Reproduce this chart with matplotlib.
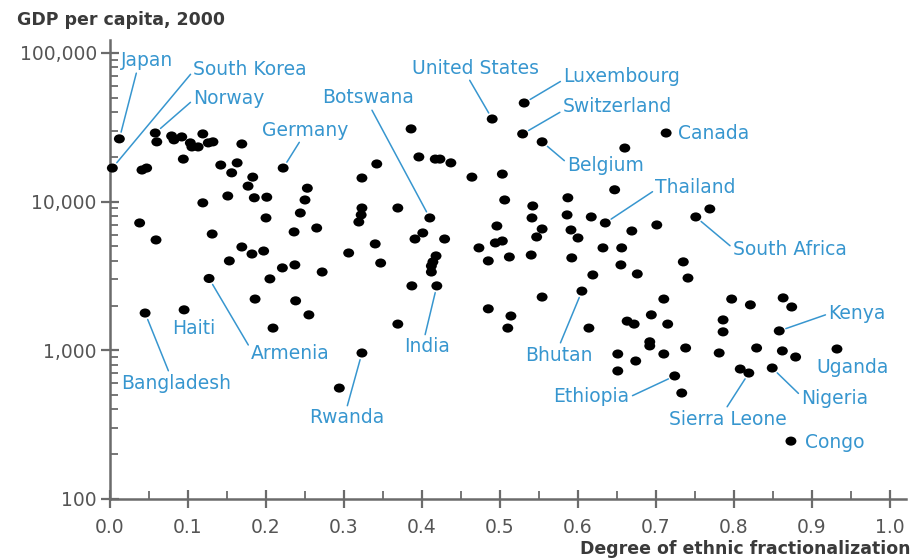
import matplotlib
matplotlib.use("Agg")
import matplotlib.pyplot as plt
from matplotlib.markers import MarkerStyle
from matplotlib.path import Path
from matplotlib.ticker import FixedLocator, LogLocator, NullFormatter
from matplotlib.transforms import Affine2D

plt.rcParams['font.family'] = ['DejaVu Sans']

# labelled countries: ethnic fractionalization, GDP per capita 2000
names = ['Japan', 'South Korea', 'Norway', 'Germany', 'Botswana',
         'United States', 'Luxembourg', 'Switzerland', 'Belgium', 'Canada',
         'Thailand', 'South Africa', 'Kenya', 'Uganda', 'Nigeria',
         'Sierra Leone', 'Congo', 'Ethiopia', 'Bhutan', 'India',
         'Rwanda', 'Armenia', 'Haiti', 'Bangladesh']
named_frac = [0.012, 0.003, 0.058, 0.222, 0.410,
              0.490, 0.531, 0.529, 0.554, 0.713,
              0.635, 0.751, 0.858, 0.932, 0.849,
              0.819, 0.873, 0.724, 0.605, 0.419,
              0.323, 0.127, 0.095, 0.045]
named_gdp = [26400, 16800, 28900, 16800, 7760,
             35900, 46000, 28500, 25200, 28900,
             7180, 7880, 1350, 1020, 760,
             703, 245, 672, 2500, 2710,
             959, 3040, 1870, 1780]

# all other countries
other_frac = [0.060, 0.079, 0.082, 0.092, 0.103, 0.105, 0.113, 0.119, 0.126, 0.132,
              0.169, 0.094, 0.041, 0.047, 0.142, 0.156, 0.163, 0.183, 0.177, 0.253,
              0.250, 0.151, 0.185, 0.201, 0.119, 0.244, 0.200, 0.323, 0.323, 0.322,
              0.319, 0.038, 0.059, 0.131, 0.236, 0.265, 0.169, 0.182, 0.197, 0.153,
              0.221, 0.237, 0.205, 0.272, 0.306, 0.186, 0.238, 0.255, 0.209, 0.294,
              0.386, 0.396, 0.417, 0.423, 0.437, 0.342, 0.369, 0.401, 0.391, 0.429,
              0.340, 0.418, 0.414, 0.412, 0.412, 0.347, 0.387, 0.369, 0.660, 0.464,
              0.503, 0.647, 0.506, 0.587, 0.542, 0.541, 0.586, 0.617, 0.554, 0.547,
              0.496, 0.591, 0.600, 0.494, 0.503, 0.473, 0.632, 0.656, 0.485, 0.512,
              0.540, 0.592, 0.655, 0.619, 0.554, 0.485, 0.514, 0.510, 0.614, 0.651,
              0.651, 0.663, 0.672, 0.701, 0.669, 0.676, 0.735, 0.741, 0.769, 0.710,
              0.694, 0.715, 0.692, 0.692, 0.710, 0.738, 0.674, 0.733, 0.797, 0.821,
              0.863, 0.874, 0.786, 0.786, 0.781, 0.829, 0.862, 0.879, 0.808]
other_gdp = [25200, 27600, 26000, 27200, 24800, 23300, 23300, 28500, 24800, 25200,
             24400, 19300, 16300, 16800, 17600, 15600, 18200, 14600, 12700, 12300,
             10250, 10900, 10600, 10700, 9800, 8380, 7760, 14400, 9050, 8130,
             7290, 7180, 5520, 6050, 6250, 6640, 4950, 4440, 4650, 3990,
             3580, 3750, 3020, 3360, 4510, 2210, 2150, 1730, 1410, 557,
             30800, 19950, 19300, 19300, 18200, 17900, 9050, 6150, 5600, 5600,
             5190, 4310, 3930, 3690, 3360, 3860, 2710, 1500, 22900, 14600,
             15300, 12000, 10250, 10600, 9340, 7760, 8130, 7880, 6540, 5780,
             6850, 6440, 5690, 5270, 5430, 4880, 4880, 4880, 3990, 4240,
             4370, 4180, 3750, 3210, 2280, 1900, 1700, 1410, 1410, 944,
             726, 1570, 1500, 6960, 6340, 3260, 3930, 3060, 8920, 2210,
             1730, 1500, 1140, 1070, 944, 1036, 847, 516, 2210, 2020,
             2250, 1955, 1600, 1330, 959, 1036, 990, 901, 748]

y_ticks = [100, 1000, 10000, 100000]
y_ticklabels = ['100', '1,000', '10,000', '100,000']
x_ticks = [0.0, 0.1, 0.2, 0.3, 0.4, 0.5, 0.6, 0.7, 0.8, 0.9, 1.0]

# label placement: offset from dot in pixels, alignment, where leader line leaves the text
label_pos = {
    'Japan': (2, 78, 'left', (0.3, 0)),
    'South Korea': (81, 99, 'left', (0, 0.4)),
    'Norway': (38, 35, 'left', (0, 0.4)),
    'Germany': (-21, 38, 'left', (0.45, 0)),
    'Botswana': (-108, 120, 'left', (0.53, 0)),
    'United States': (-80, 51, 'left', (0.44, 0)),
    'Luxembourg': (39, 26, 'left', (0, 0.35)),
    'Switzerland': (40, 27, 'left', (0, 0.3)),
    'Belgium': (25, -24, 'left', (0, 0.65)),
    'Canada': (12, 0, 'left', None),
    'Thailand': (50, 35, 'left', (0, 0.4)),
    'South Africa': (37, -33, 'left', (0, 0.6)),
    'Kenya': (49, 17, 'left', (0, 0.5)),
    'Uganda': (-21, -18, 'left', None),
    'Nigeria': (29, -30, 'left', (0, 0.6)),
    'Sierra Leone': (-80, -46, 'left', (0.48, 1)),
    'Congo': (14, -1, 'left', None),
    'Ethiopia': (-45, -21, 'right', (1, 0.5)),
    'Bhutan': (-57, -64, 'left', (0.51, 1)),
    'India': (-33, -61, 'left', (0.45, 1)),
    'Rwanda': (-53, -65, 'left', (0.5, 1)),
    'Armenia': (42, -75, 'left', (0, 0.7)),
    'Haiti': (-12, -19, 'left', None),
    'Bangladesh': (-24, -70, 'left', (0.44, 1)),
}

blue = '#3796cf'
axis_grey = '#6b6b6b'
text_grey = '#555555'

# the dots in the original are slightly wider than tall
oval = MarkerStyle(Path.unit_circle().transformed(Affine2D().scale(1.2, 1.0)))

fig = plt.figure(figsize=(9.15, 5.6), dpi=100)
ax = fig.add_axes([110 / 915, 1 - 499 / 560, 795.6 / 915, 459 / 560])

ax.scatter(other_frac + named_frac, other_gdp + named_gdp, s=62, marker=oval,
           color='black', edgecolors='none', zorder=3, clip_on=False)

for name, fx, gy in zip(names, named_frac, named_gdp):
    dx, dy, ha, rel = label_pos[name]
    arrow = None
    if rel is not None:
        arrow = dict(arrowstyle='-', color=blue, lw=1.1, shrinkA=0, shrinkB=5, relpos=rel)
    ax.annotate(name, xy=(fx, gy), xytext=(dx, dy), textcoords='offset pixels',
                ha=ha, va='center', color=blue, fontsize=13.5, arrowprops=arrow)

ax.set_yscale('log')
ax.set_xlim(0, 1.02)
ax.set_ylim(100, 122000)

for side in ['top', 'right']:
    ax.spines[side].set_visible(False)
for side in ['left', 'bottom']:
    ax.spines[side].set_color(axis_grey)
    ax.spines[side].set_linewidth(1.8)

ax.yaxis.set_major_locator(FixedLocator(y_ticks))
ax.set_yticklabels(y_ticklabels)
ax.yaxis.set_minor_locator(LogLocator(base=10, subs=range(2, 10)))
ax.yaxis.set_minor_formatter(NullFormatter())
ax.set_xticks(x_ticks)
ax.set_xticklabels([f'{t:.1f}' for t in x_ticks])
ax.set_xticks([t + 0.05 for t in x_ticks[:-1]], minor=True)

ax.tick_params(axis='both', which='major', direction='inout', length=13, width=1.6,
               color=axis_grey, labelcolor=text_grey, labelsize=13.5)
ax.tick_params(axis='both', which='minor', direction='in', length=6, width=1.3,
               color=axis_grey)
ax.tick_params(axis='y', which='major', pad=3)
ax.tick_params(axis='x', which='major', pad=7)

fig.text(17 / 915, 1 - 20 / 560, 'GDP per capita, 2000', ha='left', va='center',
         fontsize=12.5, fontweight='bold', color='#3a3a3a')
fig.text(910 / 915, 1 - 549 / 560, 'Degree of ethnic fractionalization', ha='right',
         va='center', fontsize=12.5, fontweight='bold', color='#3a3a3a')

fig.savefig('out.png', dpi=100)
